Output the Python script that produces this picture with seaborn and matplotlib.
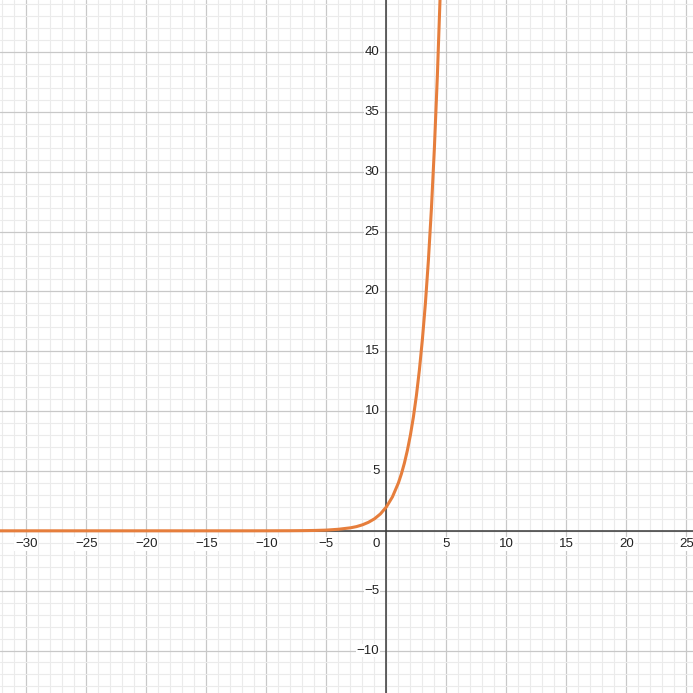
import matplotlib
matplotlib.use("Agg")
import matplotlib.pyplot as plt
import seaborn as sns
import pandas as pd
from matplotlib.ticker import MultipleLocator

# points
curve_x = [-33, -20, -12, -10, -8, -7, -6, -5, -4, -3, -2.5, -2, -1.5, -1, -0.5,
           0, 0.5, 1, 1.25, 1.5, 1.75, 2, 2.25, 2.5, 2.75, 3, 3.25, 3.5, 3.75,
           4, 4.25, 4.5]
curve_y = [0.0, 0.0, 0.0005, 0.002, 0.008, 0.016, 0.03, 0.06, 0.13, 0.25, 0.35,
           0.5, 0.71, 1.0, 1.41, 2.0, 2.83, 4.0, 4.76, 5.66, 6.73, 8.0, 9.51,
           11.3, 13.45, 16.0, 19.0, 22.6, 26.9, 32.0, 38.1, 45.3]

x_labels = [-30, -25, -20, -15, -10, -5, 5, 10, 15, 20, 25]
y_labels = [-10, -5, 5, 10, 15, 20, 25, 30, 35, 40]

df = pd.DataFrame({"x": curve_x, "y": curve_y})

sns.set_style("white")
plt.rcParams['font.family'] = ['Liberation Sans', 'DejaVu Sans']

fig = plt.figure(figsize=(6.93, 6.93), dpi=100)
ax = fig.add_axes([0, 0, 1, 1])
ax.set_xlim(-32.2, 25.55)
ax.set_ylim(-13.55, 44.35)

# grid
ax.xaxis.set_major_locator(MultipleLocator(5))
ax.yaxis.set_major_locator(MultipleLocator(5))
ax.xaxis.set_minor_locator(MultipleLocator(1))
ax.yaxis.set_minor_locator(MultipleLocator(1))
ax.grid(which="minor", color="#ebebeb", linewidth=0.8, zorder=0)
ax.grid(which="major", color="#c8c8c8", linewidth=0.9, zorder=0)
ax.tick_params(which="both", length=0, labelbottom=False, labelleft=False)
for s in ax.spines.values():
    s.set_visible(False)
ax.set_axisbelow(True)

# axes
ax.axhline(0, color="#3a3a3a", linewidth=1.1, zorder=2)
ax.axvline(0, color="#3a3a3a", linewidth=1.1, zorder=2)

sns.lineplot(data=df, x="x", y="y", ax=ax, color="#e67e3c", linewidth=2.2,
             zorder=3, legend=False)
ax.set_xlabel("")
ax.set_ylabel("")

box = dict(facecolor="white", edgecolor="none", pad=0.6)
for v in x_labels:
    ax.annotate(str(v).replace("-", "\u2212"), xy=(v, 0), xytext=(0, -5),
                textcoords="offset points", ha="center", va="top",
                fontsize=9.5, color="#222222", bbox=box, zorder=4)
for v in y_labels:
    ax.annotate(str(v).replace("-", "\u2212"), xy=(0, v), xytext=(-5, 0),
                textcoords="offset points", ha="right", va="center",
                fontsize=9.5, color="#222222", bbox=box, zorder=4)
ax.annotate("0", xy=(0, 0), xytext=(-5, -5), textcoords="offset points",
            ha="right", va="top", fontsize=9.5, color="#222222", bbox=box, zorder=4)

fig.savefig("out.png", dpi=100)
